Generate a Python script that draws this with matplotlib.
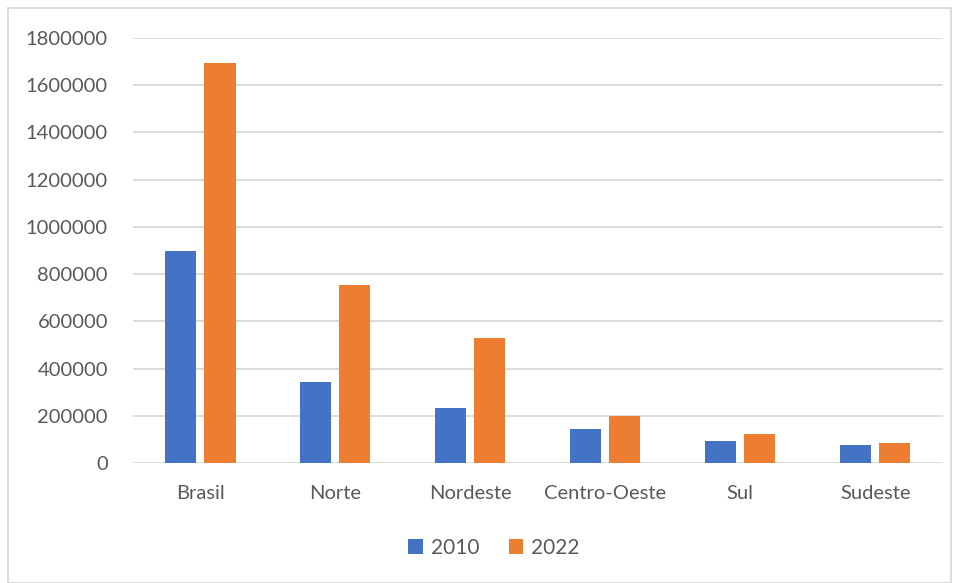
import numpy as np
import matplotlib.pyplot as plt
from matplotlib.patches import Rectangle

# Data
regioes = ['Brasil', 'Norte', 'Nordeste', 'Centro-Oeste', 'Sul', 'Sudeste']
pop_2010 = [896917, 342836, 232739, 143432, 95000, 78000]
pop_2022 = [1693535, 753357, 528800, 199912, 124000, 86000]
anos = ['2010', '2022']

azul = '#4472C4'
laranja = '#ED7D31'
cinza = '#595959'

plt.rcParams['font.family'] = ['Lato', 'DejaVu Sans']

fig = plt.figure(figsize=(9.6, 5.83), dpi=100)
ax = fig.add_axes([0.1385, 0.2058, 0.8435, 0.729])

x = np.arange(len(regioes))
w = 0.23
off = 0.145
ax.bar(x - off, pop_2010, w, color=azul, label=anos[0], zorder=3)
ax.bar(x + off, pop_2022, w, color=laranja, label=anos[1], zorder=3)

ax.set_xlim(-0.5, len(regioes) - 0.5)
ax.set_ylim(0, 1800000)
ax.set_yticks(np.arange(0, 1800001, 200000))
ax.set_yticklabels([str(v) for v in range(0, 1800001, 200000)])
ax.set_xticks(x)
ax.set_xticklabels(regioes)
ax.tick_params(axis='both', length=0, labelsize=14.5, colors=cinza)
ax.tick_params(axis='x', pad=16)
ax.tick_params(axis='y', pad=18)
ax.grid(axis='y', color='#D9D9D9', linewidth=1.3, zorder=0)
for s in ax.spines.values():
    s.set_visible(False)

leg = fig.legend(loc='center', bbox_to_anchor=(494 / 960, 1 - 548 / 583), ncol=2,
                 frameon=False, fontsize=15, handlelength=0.7, handleheight=0.7,
                 columnspacing=1.4, handletextpad=0.4)
for t in leg.get_texts():
    t.set_color(cinza)

# outer border of the chart area
fig.patches.append(Rectangle((8 / 960, 0), 943 / 960, 575 / 583, transform=fig.transFigure,
                             fill=False, edgecolor='#D9D9D9', linewidth=1.3))

fig.savefig('out.png', dpi=100)
